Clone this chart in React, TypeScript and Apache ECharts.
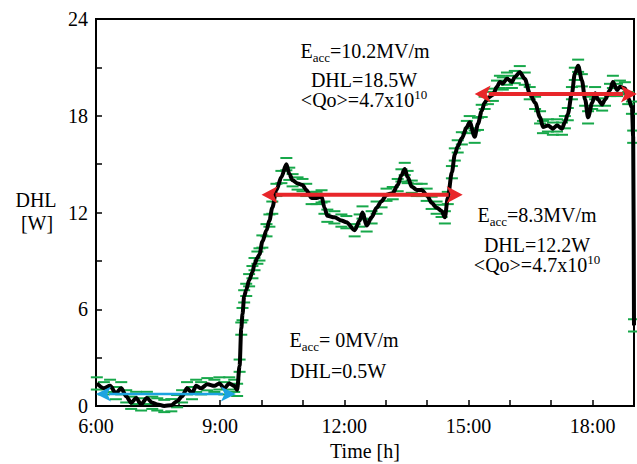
import React, { useEffect, useRef } from "react";
import * as echarts from "echarts";

// Time in hours, DHL in W
const TIMES = [
  6.02, 6.19, 6.34, 6.48, 6.61, 6.73, 6.85, 6.97, 7.09, 7.23, 7.36, 7.48, 7.65, 7.82, 7.96,
  8.08, 8.2, 8.32, 8.42, 8.54, 8.69, 8.86, 8.98, 9.1, 9.22, 9.34, 9.41, 9.47, 9.51, 9.54,
  9.58, 9.63, 9.7, 9.78, 9.83, 9.9, 9.95, 10.02, 10.12, 10.19, 10.26, 10.36, 10.48, 10.6,
  10.67, 10.75, 10.87, 10.99, 11.08, 11.21, 11.33, 11.45, 11.52, 11.59, 11.76, 11.93, 12.05,
  12.25, 12.37, 12.44, 12.54, 12.66, 12.78, 12.9, 13.02, 13.17, 13.29, 13.38, 13.46, 13.53,
  13.63, 13.75, 13.87, 13.99, 14.11, 14.23, 14.35, 14.43, 14.5, 14.6, 14.67, 14.74, 14.84,
  14.96, 15.03, 15.15, 15.23, 15.32, 15.39, 15.47, 15.59, 15.69, 15.76, 15.83, 15.93, 16.05,
  16.12, 16.24, 16.36, 16.48, 16.61, 16.73, 16.8, 16.92, 17.04, 17.14, 17.26, 17.33, 17.4,
  17.5, 17.57, 17.65, 17.74, 17.82, 17.89, 17.99, 18.06, 18.13, 18.23, 18.3, 18.42, 18.49,
  18.59, 18.66, 18.78, 18.86, 18.95, 18.98, 19.0,
];
const DHL = [
  1.4, 1.1, 1.25, 0.8, 1.1, 0.6, 0.2, 0.5, 0.1, 0.5, 0.2, 0.1, 0.0, 0.05, 0.3,
  0.6, 1.1, 0.8, 1.25, 1.1, 1.35, 1.25, 1.4, 1.1, 1.4, 1.25, 1.0, 2.5, 4.8, 5.7,
  6.8, 7.2, 7.8, 8.3, 8.8, 9.2, 9.4, 10.2, 10.9, 11.5, 12.3, 13.4, 14.2, 15.0,
  14.4, 14.0, 13.8, 13.7, 13.4, 12.9, 12.9, 13.0, 12.3, 11.8, 11.7, 11.5, 11.4,
  10.9, 11.5, 12.0, 11.2, 11.7, 12.3, 12.7, 13.1, 13.2, 13.7, 14.3, 14.7, 14.2,
  13.6, 13.4, 13.4, 13.1, 12.6, 12.3, 12.1, 11.7, 12.9, 14.5, 15.6, 16.1, 16.6,
  17.3, 17.6, 16.7, 17.5, 18.3, 18.8, 19.1, 19.3, 19.8, 20.1, 20.0, 20.3, 20.1,
  20.4, 20.7, 20.3, 19.4, 18.8, 17.9, 17.3, 17.4, 17.2, 17.4, 17.2, 17.6, 18.1,
  19.4, 20.6, 21.1, 20.2, 19.0, 17.9, 18.8, 19.4, 19.0, 18.7, 19.0, 19.6, 20.1,
  19.6, 19.8, 19.7, 19.1, 18.5, 16.7, 5.0,
];
const ERR = 0.38; // half-height of the error bars, W

// Arrows: start time, end time, level
const ARROW_X1 = [6.0, 10.0, 15.15];
const ARROW_X2 = [9.38, 14.86, 19.07];
const ARROW_Y = [0.75, 13.1, 19.35];
const ARROW_COLORS = ["#1ca3e0", "#e8262a", "#e8262a"];

const X_TICK_LABELS: Record<number, string> = { 6: "6:00", 9: "9:00", 12: "12:00", 15: "15:00", 18: "18:00" };
const Y_TICK_LABELS = [0, 6, 12, 18, 24];

const FONT = '"Liberation Serif", "Times New Roman", serif';

export default function App() {
  const ref = useRef<HTMLDivElement>(null);
  useEffect(() => {
    if (!ref.current) return;
    const chart = echarts.init(ref.current, null, { renderer: "svg" });
    const points = TIMES.map((t, i) => [t, DHL[i]]);
    const arrows = ARROW_X1.map((x1, i) => [x1, ARROW_X2[i], ARROW_Y[i], i]);
    const rich = {
      s: { fontFamily: FONT, fontSize: 13, padding: [13, 0, 0, 0], lineHeight: 14 },
      p: { fontFamily: FONT, fontSize: 13, padding: [0, 0, 12, 0], lineHeight: 14 },
    };
    const txt = (text: string, x: number, y: number) => ({
      type: "text",
      x,
      y,
      z: 100,
      style: {
        text,
        fill: "#000",
        font: `20px ${FONT}`,
        textAlign: "center",
        textVerticalAlign: "middle",
        rich,
      },
    });
    chart.setOption({
      animation: false,
      backgroundColor: "#fff",
      grid: { left: 96, right: 3, top: 19, bottom: 58, show: true, borderColor: "#000", borderWidth: 2 },
      xAxis: {
        type: "value",
        min: 6,
        max: 19,
        interval: 1,
        axisLine: { show: true, onZero: false, lineStyle: { color: "#000", width: 2 } },
        axisTick: { show: true, inside: true, length: 6, lineStyle: { color: "#000", width: 1.5 } },
        splitLine: { show: false },
        axisLabel: {
          color: "#000",
          fontFamily: FONT,
          fontSize: 20,
          lineHeight: 20,
          margin: 10,
          formatter: (v: number) => X_TICK_LABELS[Math.round(v)] ?? "",
        },
      },
      yAxis: {
        type: "value",
        min: 0,
        max: 24,
        interval: 3,
        axisLine: { show: true, lineStyle: { color: "#000", width: 2 } },
        axisTick: { show: true, inside: true, length: 6, lineStyle: { color: "#000", width: 1.5 } },
        splitLine: { show: false },
        axisLabel: {
          color: "#000",
          fontFamily: FONT,
          fontSize: 20,
          lineHeight: 16,
          margin: 8,
          formatter: (v: number) => (Y_TICK_LABELS.includes(Math.round(v)) ? String(Math.round(v)) : ""),
        },
      },
      series: [
        {
          type: "custom",
          name: "err",
          z: 2,
          clip: false,
          data: points,
          renderItem: (params: any, api: any) => {
            const t = api.value(0);
            const v = api.value(1);
            const top = api.coord([t, v + ERR]);
            const bot = api.coord([t, v - ERR]);
            const w = 6;
            const st = { stroke: "#17a84a", lineWidth: 2 };
            return {
              type: "group",
              children: [
                { type: "line", shape: { x1: top[0] - w, y1: top[1], x2: top[0] + w, y2: top[1] }, style: st },
                { type: "line", shape: { x1: bot[0] - w, y1: bot[1], x2: bot[0] + w, y2: bot[1] }, style: st },
              ],
            };
          },
        },
        {
          type: "line",
          name: "DHL",
          z: 3,
          data: points,
          symbol: "none",
          smooth: 0.3,
          smoothMonotone: "x",
          lineStyle: { color: "#000", width: 4 },
        },
        {
          type: "custom",
          name: "arrows",
          z: 5,
          clip: false,
          data: arrows,
          renderItem: (params: any, api: any) => {
            const x1 = api.value(0);
            const x2 = api.value(1);
            const y = api.value(2);
            const idx = api.value(3);
            const color = ARROW_COLORS[idx];
            const p1 = api.coord([x1, y]);
            const p2 = api.coord([x2, y]);
            const hl = idx === 0 ? 15 : 16;
            const hh = idx === 0 ? 7.5 : 8.5;
            const lw = idx === 0 ? 2.5 : 4;
            return {
              type: "group",
              children: [
                {
                  type: "line",
                  shape: { x1: p1[0] + hl - 2, y1: p1[1], x2: p2[0] - hl + 2, y2: p2[1] },
                  style: { stroke: color, lineWidth: lw },
                },
                {
                  type: "polygon",
                  shape: { points: [[p1[0], p1[1]], [p1[0] + hl, p1[1] - hh], [p1[0] + hl * 0.75, p1[1]], [p1[0] + hl, p1[1] + hh]] },
                  style: { fill: color },
                },
                {
                  type: "polygon",
                  shape: { points: [[p2[0], p2[1]], [p2[0] - hl, p2[1] - hh], [p2[0] - hl * 0.75, p2[1]], [p2[0] - hl, p2[1] + hh]] },
                  style: { fill: color },
                },
              ],
            };
          },
        },
      ],
      graphic: [
        txt("DHL", 36, 200),
        txt("[W]", 37, 223),
        txt("Time [h]", 365, 451),
        txt("E{s|acc}=10.2MV/m", 365, 51),
        txt("DHL=18.5W", 364, 80),
        txt("<Qo>=4.7x10{p|10}", 364, 100),
        txt("E{s|acc}=8.3MV/m", 537, 215),
        txt("DHL=12.2W", 537, 245),
        txt("<Qo>=4.7x10{p|10}", 537, 265),
        txt("E{s|acc}= 0MV/m", 344, 340),
        txt("DHL=0.5W", 338, 371),
      ],
    });
    return () => chart.dispose();
  }, []);
  return <div ref={ref} style={{ width: 637, height: 464, position: "absolute", left: 0, top: 0 }} />;
}
